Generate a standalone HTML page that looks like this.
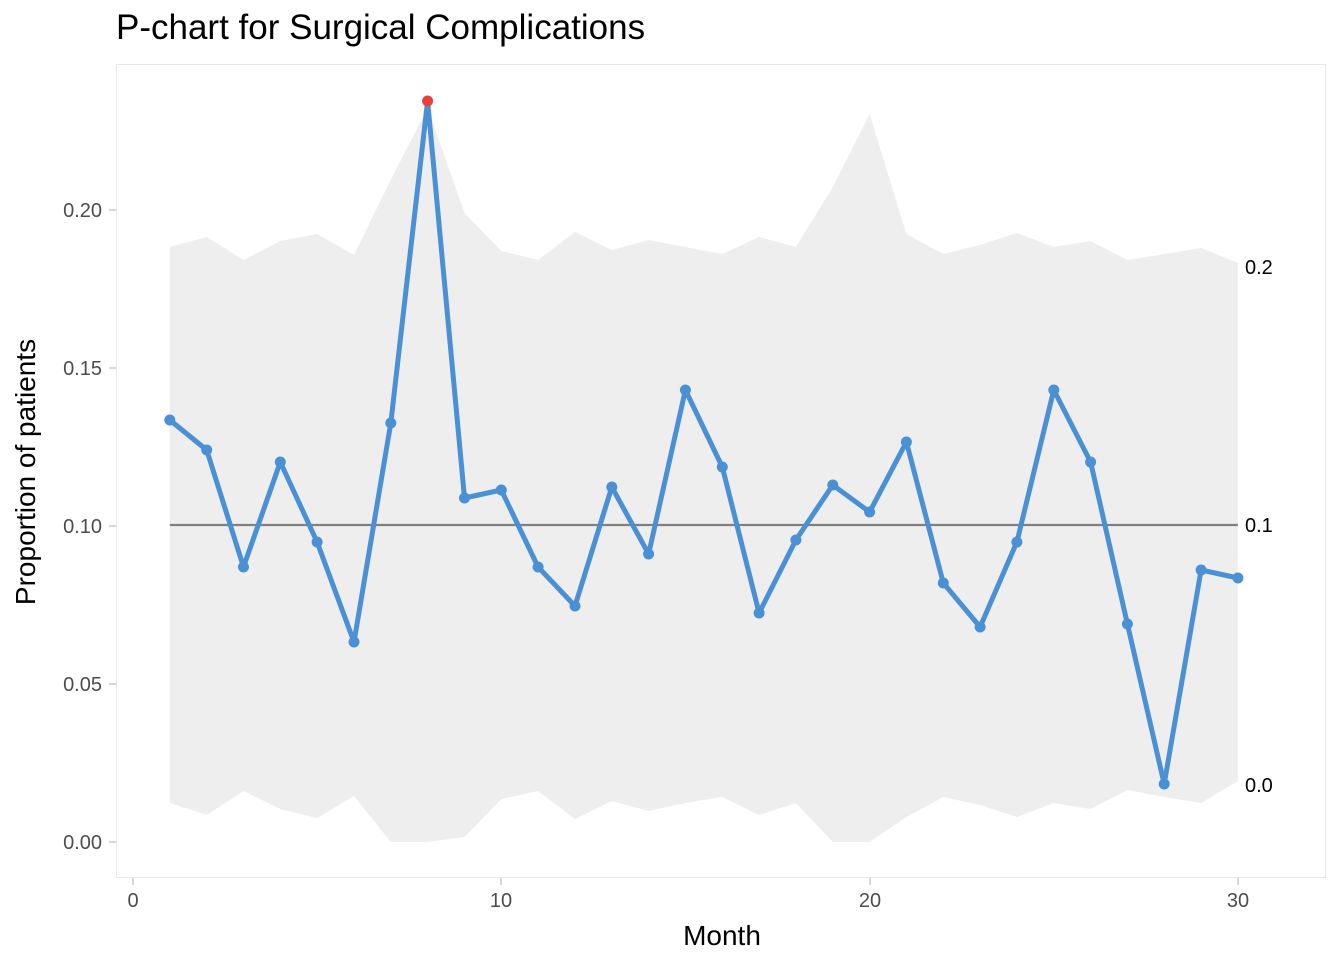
<!DOCTYPE html>
<html><head><meta charset="utf-8"><style>
html,body{margin:0;padding:0;background:#fff;}
svg{display:block;font-family:"Liberation Sans",Arial,sans-serif;}
</style></head><body>
<svg id="s" width="1344" height="960" xmlns="http://www.w3.org/2000/svg">
<rect width="1344" height="960" fill="#fff"/>
<text x="116" y="39" font-size="35" fill="#000">P-chart for Surgical Complications</text>
<rect x="116.5" y="64.5" width="1209" height="813" fill="none" stroke="#e6e6e6" stroke-width="1"/>
<g id="g"></g>
<g font-size="20" fill="#4d4d4d" text-anchor="end">
<text x="102" y="217">0.20</text><text x="102" y="375">0.15</text><text x="102" y="533">0.10</text><text x="102" y="691">0.05</text><text x="102" y="849">0.00</text>
</g>
<g stroke="#bdbdbd" stroke-width="1.2">
<line x1="109" x2="116" y1="210" y2="210"/><line x1="109" x2="116" y1="368" y2="368"/><line x1="109" x2="116" y1="526" y2="526"/><line x1="109" x2="116" y1="684" y2="684"/><line x1="109" x2="116" y1="842" y2="842"/>
<line x1="133" x2="133" y1="878" y2="885"/><line x1="501" x2="501" y1="878" y2="885"/><line x1="870" x2="870" y1="878" y2="885"/><line x1="1238" x2="1238" y1="878" y2="885"/>
</g>
<g font-size="20" fill="#4d4d4d" text-anchor="middle">
<text x="133" y="907">0</text><text x="501" y="907">10</text><text x="870" y="907">20</text><text x="1238" y="907">30</text>
</g>
<text x="722" y="945" font-size="28" text-anchor="middle" fill="#000">Month</text>
<text transform="translate(35,472) rotate(-90)" font-size="28" text-anchor="middle" fill="#000">Proportion of patients</text>
<g font-size="20" fill="#000"><text x="1245" y="274">0.2</text><text x="1245" y="532">0.1</text><text x="1245" y="792">0.0</text></g>
</svg>
<script>
var P=[420,450,567,462,542,642,423,101,498,490,567,606,487,554,390,467,613,540,485,512,442,583,627,542,390,462,624,784,570,578];
var U=[247,237,260,241,234,255,180,108,213,251,260,232,250,240,247,254,237,247,187,114,234,254,245,233,247,241,260,254,248,263];
var L=[803,815,791,809,818,796,842,842,837,799,791,819,801,811,803,797,815,803,842,842,817,797,805,817,803,809,790,797,803,781];
function X(m){return 133+36.83*m;}
var s='',pts=[];
for(var i=0;i<30;i++)pts.push(X(i+1).toFixed(1)+','+U[i]);
for(var i=29;i>=0;i--)pts.push(X(i+1).toFixed(1)+','+L[i]);
s+='<polygon points="'+pts.join(' ')+'" fill="#eeeeee"/>';
s+='<line x1="'+X(1)+'" x2="'+X(30)+'" y1="525" y2="525" stroke="#808080" stroke-width="2.2"/>';
var lp=[];for(var i=0;i<30;i++)lp.push(X(i+1).toFixed(1)+','+P[i]);
s+='<polyline points="'+lp.join(' ')+'" fill="none" stroke="#4a90d4" stroke-width="5" stroke-linejoin="round"/>';
for(var i=0;i<30;i++)s+='<circle cx="'+X(i+1).toFixed(1)+'" cy="'+P[i]+'" r="5.5" fill="'+(i==7?'#e8413c':'#4a90d4')+'"/>';
document.getElementById('g').innerHTML=s;
</script>
</body></html>
